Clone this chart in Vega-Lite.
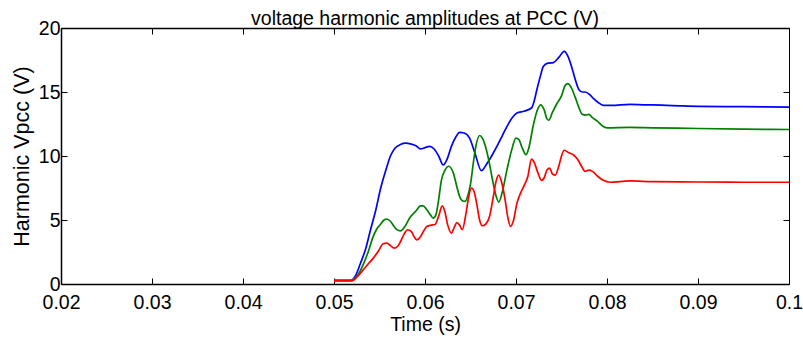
{
  "$schema": "https://vega.github.io/schema/vega-lite/v6.json",
  "width": 728,
  "height": 256,
  "autosize": {"type": "none"},
  "padding": {"left": 61, "top": 28, "right": 14, "bottom": 59},
  "background": "white",
  "config": {
    "view": {"stroke": null},
    "font": "Liberation Sans",
    "axis": {
      "domainColor": "black",
      "domainWidth": 1.5,
      "tickColor": "black",
      "tickWidth": 1,
      "tickSize": -6,
      "grid": false,
      "labelColor": "black",
      "labelFont": "Liberation Sans",
      "labelFontSize": 19.5,
      "titleFont": "Liberation Sans",
      "titleFontSize": 19.5,
      "titleFontWeight": "normal",
      "titleColor": "black"
    }
  },
  "title": {
    "text": "voltage harmonic amplitudes at PCC (V)",
    "font": "Liberation Sans",
    "fontSize": 19.5,
    "fontWeight": "normal",
    "color": "black",
    "anchor": "middle",
    "offset": -11
  },
  "data": {
    "values": [
      {"s": "a", "t": 0.0500, "v": 0.28},
      {"s": "a", "t": 0.0518, "v": 0.28},
      {"s": "a", "t": 0.0524, "v": 0.7},
      {"s": "a", "t": 0.0529, "v": 1.6},
      {"s": "a", "t": 0.0535, "v": 2.8},
      {"s": "a", "t": 0.0540, "v": 4.2},
      {"s": "a", "t": 0.0546, "v": 5.8},
      {"s": "a", "t": 0.0551, "v": 7.4},
      {"s": "a", "t": 0.0557, "v": 8.9},
      {"s": "a", "t": 0.0562, "v": 10.0},
      {"s": "a", "t": 0.0567, "v": 10.6},
      {"s": "a", "t": 0.0573, "v": 10.9},
      {"s": "a", "t": 0.0579, "v": 11.0},
      {"s": "a", "t": 0.0584, "v": 10.95},
      {"s": "a", "t": 0.0590, "v": 10.8},
      {"s": "a", "t": 0.0595, "v": 10.55},
      {"s": "a", "t": 0.0600, "v": 10.65},
      {"s": "a", "t": 0.0605, "v": 10.75},
      {"s": "a", "t": 0.0610, "v": 10.55},
      {"s": "a", "t": 0.0615, "v": 10.0},
      {"s": "a", "t": 0.0620, "v": 9.3},
      {"s": "a", "t": 0.0624, "v": 9.7},
      {"s": "a", "t": 0.0629, "v": 10.75},
      {"s": "a", "t": 0.0634, "v": 11.5},
      {"s": "a", "t": 0.0638, "v": 11.84},
      {"s": "a", "t": 0.0643, "v": 11.8},
      {"s": "a", "t": 0.0649, "v": 11.4},
      {"s": "a", "t": 0.0655, "v": 10.2},
      {"s": "a", "t": 0.0662, "v": 8.85},
      {"s": "a", "t": 0.0668, "v": 9.4},
      {"s": "a", "t": 0.0674, "v": 10.1},
      {"s": "a", "t": 0.0679, "v": 10.75},
      {"s": "a", "t": 0.0685, "v": 11.6},
      {"s": "a", "t": 0.0690, "v": 12.3},
      {"s": "a", "t": 0.0696, "v": 13.0},
      {"s": "a", "t": 0.0701, "v": 13.35},
      {"s": "a", "t": 0.0709, "v": 13.5},
      {"s": "a", "t": 0.0717, "v": 13.75},
      {"s": "a", "t": 0.0720, "v": 14.3},
      {"s": "a", "t": 0.0723, "v": 15.2},
      {"s": "a", "t": 0.0727, "v": 16.3},
      {"s": "a", "t": 0.0730, "v": 17.0},
      {"s": "a", "t": 0.0735, "v": 17.25},
      {"s": "a", "t": 0.0741, "v": 17.3},
      {"s": "a", "t": 0.0747, "v": 17.7},
      {"s": "a", "t": 0.0753, "v": 18.17},
      {"s": "a", "t": 0.0757, "v": 17.8},
      {"s": "a", "t": 0.0761, "v": 17.0},
      {"s": "a", "t": 0.0765, "v": 16.0},
      {"s": "a", "t": 0.0769, "v": 15.2},
      {"s": "a", "t": 0.0773, "v": 15.0},
      {"s": "a", "t": 0.0776, "v": 15.0},
      {"s": "a", "t": 0.0781, "v": 14.8},
      {"s": "a", "t": 0.0785, "v": 14.5},
      {"s": "a", "t": 0.0790, "v": 14.2},
      {"s": "a", "t": 0.0796, "v": 13.95},
      {"s": "a", "t": 0.0805, "v": 13.95},
      {"s": "a", "t": 0.0825, "v": 14.03},
      {"s": "a", "t": 0.0840, "v": 14.0},
      {"s": "a", "t": 0.0860, "v": 13.97},
      {"s": "a", "t": 0.0880, "v": 13.92},
      {"s": "a", "t": 0.0900, "v": 13.88},
      {"s": "a", "t": 0.0950, "v": 13.85},
      {"s": "a", "t": 0.1000, "v": 13.82},
      {"s": "b", "t": 0.0500, "v": 0.28},
      {"s": "b", "t": 0.0518, "v": 0.28},
      {"s": "b", "t": 0.0525, "v": 0.6},
      {"s": "b", "t": 0.0532, "v": 1.5},
      {"s": "b", "t": 0.0538, "v": 2.6},
      {"s": "b", "t": 0.0543, "v": 3.7},
      {"s": "b", "t": 0.0547, "v": 4.3},
      {"s": "b", "t": 0.0551, "v": 4.65},
      {"s": "b", "t": 0.0555, "v": 5.0},
      {"s": "b", "t": 0.0558, "v": 5.08},
      {"s": "b", "t": 0.0562, "v": 4.9},
      {"s": "b", "t": 0.0565, "v": 4.6},
      {"s": "b", "t": 0.0569, "v": 4.25},
      {"s": "b", "t": 0.0573, "v": 4.15},
      {"s": "b", "t": 0.0578, "v": 4.5},
      {"s": "b", "t": 0.0584, "v": 5.25},
      {"s": "b", "t": 0.0590, "v": 5.7},
      {"s": "b", "t": 0.0595, "v": 6.1},
      {"s": "b", "t": 0.0598, "v": 6.1},
      {"s": "b", "t": 0.0602, "v": 5.8},
      {"s": "b", "t": 0.0606, "v": 5.4},
      {"s": "b", "t": 0.0609, "v": 5.15},
      {"s": "b", "t": 0.0612, "v": 5.4},
      {"s": "b", "t": 0.0615, "v": 6.6},
      {"s": "b", "t": 0.0618, "v": 8.1},
      {"s": "b", "t": 0.0622, "v": 8.9},
      {"s": "b", "t": 0.0626, "v": 9.2},
      {"s": "b", "t": 0.0631, "v": 8.7},
      {"s": "b", "t": 0.0635, "v": 7.6},
      {"s": "b", "t": 0.0638, "v": 6.85},
      {"s": "b", "t": 0.0641, "v": 6.5},
      {"s": "b", "t": 0.0644, "v": 6.45},
      {"s": "b", "t": 0.0647, "v": 6.9},
      {"s": "b", "t": 0.0650, "v": 7.8},
      {"s": "b", "t": 0.0653, "v": 9.4},
      {"s": "b", "t": 0.0656, "v": 10.8},
      {"s": "b", "t": 0.0660, "v": 11.6},
      {"s": "b", "t": 0.0663, "v": 11.4},
      {"s": "b", "t": 0.0667, "v": 10.6},
      {"s": "b", "t": 0.0670, "v": 9.7},
      {"s": "b", "t": 0.0674, "v": 8.2},
      {"s": "b", "t": 0.0678, "v": 6.9},
      {"s": "b", "t": 0.0681, "v": 6.4},
      {"s": "b", "t": 0.0685, "v": 7.2},
      {"s": "b", "t": 0.0690, "v": 8.9},
      {"s": "b", "t": 0.0695, "v": 10.4},
      {"s": "b", "t": 0.0700, "v": 11.4},
      {"s": "b", "t": 0.0703, "v": 11.3},
      {"s": "b", "t": 0.0707, "v": 10.6},
      {"s": "b", "t": 0.0711, "v": 10.1},
      {"s": "b", "t": 0.0714, "v": 10.6},
      {"s": "b", "t": 0.0719, "v": 12.4},
      {"s": "b", "t": 0.0723, "v": 13.5},
      {"s": "b", "t": 0.0727, "v": 14.0},
      {"s": "b", "t": 0.0731, "v": 13.6},
      {"s": "b", "t": 0.0734, "v": 12.9},
      {"s": "b", "t": 0.0736, "v": 12.8},
      {"s": "b", "t": 0.0740, "v": 13.4},
      {"s": "b", "t": 0.0745, "v": 14.1},
      {"s": "b", "t": 0.0750, "v": 14.7},
      {"s": "b", "t": 0.0754, "v": 15.5},
      {"s": "b", "t": 0.0757, "v": 15.65},
      {"s": "b", "t": 0.0761, "v": 15.3},
      {"s": "b", "t": 0.0765, "v": 14.6},
      {"s": "b", "t": 0.0769, "v": 13.8},
      {"s": "b", "t": 0.0773, "v": 13.25},
      {"s": "b", "t": 0.0777, "v": 13.2},
      {"s": "b", "t": 0.0780, "v": 13.25},
      {"s": "b", "t": 0.0784, "v": 13.0},
      {"s": "b", "t": 0.0789, "v": 12.75},
      {"s": "b", "t": 0.0795, "v": 12.35},
      {"s": "b", "t": 0.0800, "v": 12.2},
      {"s": "b", "t": 0.0825, "v": 12.23},
      {"s": "b", "t": 0.0850, "v": 12.2},
      {"s": "b", "t": 0.0900, "v": 12.15},
      {"s": "b", "t": 0.0950, "v": 12.1},
      {"s": "b", "t": 0.1000, "v": 12.07},
      {"s": "c", "t": 0.0500, "v": 0.25},
      {"s": "c", "t": 0.0520, "v": 0.25},
      {"s": "c", "t": 0.0526, "v": 0.6},
      {"s": "c", "t": 0.0532, "v": 1.1},
      {"s": "c", "t": 0.0538, "v": 1.6},
      {"s": "c", "t": 0.0543, "v": 2.0},
      {"s": "c", "t": 0.0549, "v": 2.6},
      {"s": "c", "t": 0.0554, "v": 3.15},
      {"s": "c", "t": 0.0558, "v": 3.2},
      {"s": "c", "t": 0.0562, "v": 3.0},
      {"s": "c", "t": 0.0566, "v": 2.8},
      {"s": "c", "t": 0.0570, "v": 2.95},
      {"s": "c", "t": 0.0573, "v": 3.3},
      {"s": "c", "t": 0.0577, "v": 3.9},
      {"s": "c", "t": 0.0581, "v": 4.24},
      {"s": "c", "t": 0.0585, "v": 4.1},
      {"s": "c", "t": 0.0588, "v": 3.7},
      {"s": "c", "t": 0.0591, "v": 3.45},
      {"s": "c", "t": 0.0595, "v": 3.7},
      {"s": "c", "t": 0.0599, "v": 4.2},
      {"s": "c", "t": 0.0602, "v": 4.5},
      {"s": "c", "t": 0.0607, "v": 4.6},
      {"s": "c", "t": 0.0611, "v": 4.65},
      {"s": "c", "t": 0.0615, "v": 5.3},
      {"s": "c", "t": 0.0619, "v": 6.1},
      {"s": "c", "t": 0.0622, "v": 5.6},
      {"s": "c", "t": 0.0625, "v": 4.6},
      {"s": "c", "t": 0.0629, "v": 3.98},
      {"s": "c", "t": 0.0632, "v": 4.4},
      {"s": "c", "t": 0.0635, "v": 4.8},
      {"s": "c", "t": 0.0638, "v": 4.6},
      {"s": "c", "t": 0.0641, "v": 4.24},
      {"s": "c", "t": 0.0645, "v": 5.5},
      {"s": "c", "t": 0.0648, "v": 6.8},
      {"s": "c", "t": 0.0651, "v": 7.5},
      {"s": "c", "t": 0.0654, "v": 7.2},
      {"s": "c", "t": 0.0657, "v": 6.2},
      {"s": "c", "t": 0.0660, "v": 5.0},
      {"s": "c", "t": 0.0663, "v": 4.55},
      {"s": "c", "t": 0.0667, "v": 4.7},
      {"s": "c", "t": 0.0671, "v": 5.3},
      {"s": "c", "t": 0.0675, "v": 6.8},
      {"s": "c", "t": 0.0678, "v": 8.0},
      {"s": "c", "t": 0.0681, "v": 8.5},
      {"s": "c", "t": 0.0684, "v": 8.0},
      {"s": "c", "t": 0.0688, "v": 6.6},
      {"s": "c", "t": 0.0691, "v": 5.2},
      {"s": "c", "t": 0.0694, "v": 4.5},
      {"s": "c", "t": 0.0697, "v": 4.9},
      {"s": "c", "t": 0.0701, "v": 6.3},
      {"s": "c", "t": 0.0705, "v": 7.1},
      {"s": "c", "t": 0.0709, "v": 7.7},
      {"s": "c", "t": 0.0713, "v": 8.4},
      {"s": "c", "t": 0.0717, "v": 9.75},
      {"s": "c", "t": 0.0720, "v": 9.5},
      {"s": "c", "t": 0.0724, "v": 8.7},
      {"s": "c", "t": 0.0728, "v": 8.1},
      {"s": "c", "t": 0.0731, "v": 8.3},
      {"s": "c", "t": 0.0734, "v": 8.9},
      {"s": "c", "t": 0.0737, "v": 9.05},
      {"s": "c", "t": 0.0740, "v": 8.6},
      {"s": "c", "t": 0.0743, "v": 8.5},
      {"s": "c", "t": 0.0747, "v": 9.2},
      {"s": "c", "t": 0.0750, "v": 10.0},
      {"s": "c", "t": 0.0753, "v": 10.45},
      {"s": "c", "t": 0.0758, "v": 10.25},
      {"s": "c", "t": 0.0763, "v": 10.1},
      {"s": "c", "t": 0.0768, "v": 9.7},
      {"s": "c", "t": 0.0772, "v": 9.2},
      {"s": "c", "t": 0.0776, "v": 8.8},
      {"s": "c", "t": 0.0780, "v": 8.9},
      {"s": "c", "t": 0.0784, "v": 8.8},
      {"s": "c", "t": 0.0790, "v": 8.4},
      {"s": "c", "t": 0.0796, "v": 8.1},
      {"s": "c", "t": 0.0803, "v": 7.95},
      {"s": "c", "t": 0.0825, "v": 8.05},
      {"s": "c", "t": 0.0850, "v": 8.0},
      {"s": "c", "t": 0.0900, "v": 7.97},
      {"s": "c", "t": 0.0950, "v": 7.95},
      {"s": "c", "t": 0.1000, "v": 7.95}
    ]
  },
  "layer": [
    {
      "mark": {"type": "line", "strokeWidth": 1.7, "interpolate": "monotone"},
      "encoding": {
        "x": {
          "field": "t", "type": "quantitative",
          "scale": {"domain": [0.02, 0.1], "nice": false, "zero": false},
          "axis": {"orient": "bottom", "values": [0.02, 0.03, 0.04, 0.05, 0.06, 0.07, 0.08, 0.09, 0.1], "format": ".2~f", "title": "Time (s)", "labelPadding": 15, "titlePadding": 4, "labelFlush": false}
        },
        "y": {
          "field": "v", "type": "quantitative",
          "scale": {"domain": [0, 20], "nice": false},
          "axis": {"orient": "left", "values": [0, 5, 10, 15, 20], "title": "Harmonic Vpcc (V)", "titleFontSize": 21.5, "labelPadding": 7, "titlePadding": 5, "labelFlush": false}
        },
        "color": {
          "field": "s", "type": "nominal",
          "scale": {"domain": ["a", "b", "c"], "range": ["#0000ff", "#008000", "#ff0000"]},
          "legend": null
        }
      }
    },
    {
      "mark": {"type": "line", "opacity": 0},
      "encoding": {
        "x": {
          "field": "t", "type": "quantitative",
          "axis": {"orient": "top", "values": [0.02, 0.03, 0.04, 0.05, 0.06, 0.07, 0.08, 0.09, 0.1], "labels": false, "title": null}
        },
        "y": {
          "field": "v", "type": "quantitative",
          "axis": {"orient": "right", "values": [0, 5, 10, 15, 20], "labels": false, "title": null, "domainWidth": 1}
        },
        "detail": {"field": "s"}
      }
    }
  ],
  "resolve": {"axis": {"x": "independent", "y": "independent"}}
}
